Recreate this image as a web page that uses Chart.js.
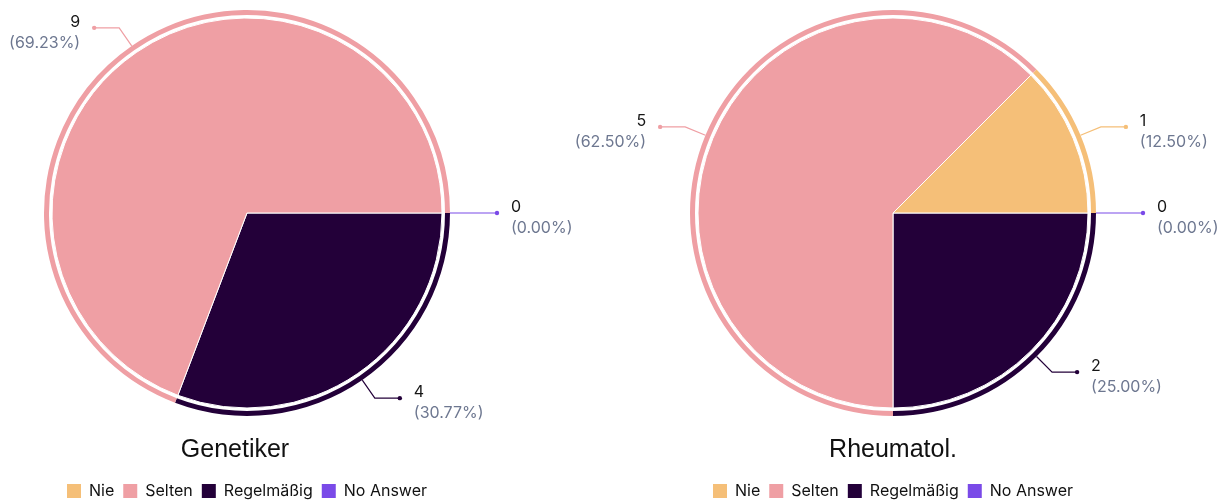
<!DOCTYPE html>
<html>
<head>
<meta charset="utf-8">
<script src="https://cdn.jsdelivr.net/npm/chart.js@4.4.1/dist/chart.umd.min.js"></script>
<style>
    html, body { margin: 0; padding: 0; background: #fff; overflow: hidden; }
    body { width: 1223px; height: 502px; position: relative; }
    .box { position: absolute; top: 0; height: 509px; }
    #boxLeft { left: 0; width: 600px; }
    #boxRight { left: 560px; width: 663px; }
</style>
</head>
<body>
<div class="box" id="boxLeft"><canvas id="chartLeft"></canvas></div>
<div class="box" id="boxRight"><canvas id="chartRight"></canvas></div>
<script>
const categories = ['Nie', 'Selten', 'Regelmäßig', 'No Answer'];
const colors = ['#f5bf78', '#ef9fa4', '#230039', '#7a4ae8'];
const genetikerValues = [0, 9, 4, 0];
const rheumaValues = [1, 5, 2, 0];
const titles = ['Genetiker', 'Rheumatol.'];

// slices run counter-clockwise in the reference, so the dataset is reversed
const rev = arr => arr.slice().reverse();

const leaderLabels = {
    id: 'leaderLabels',
    afterDatasetsDraw(chart) {
        const ctx = chart.ctx;
        const pieMeta = chart.getDatasetMeta(2);
        const ringMeta = chart.getDatasetMeta(0);
        const values = chart.data.datasets[2].data;
        const total = values.reduce((a, b) => a + b, 0);
        const placed = [];
        pieMeta.data.forEach((arc, i) => {
            const ring = ringMeta.data[i];
            const mid = (arc.startAngle + arc.endAngle) / 2;
            const r0 = ring.outerRadius;
            const cx = arc.x, cy = arc.y;
            const x0 = cx + Math.cos(mid) * r0, y0 = cy + Math.sin(mid) * r0;
            const x1 = cx + Math.cos(mid) * (r0 + 22), y1 = cy + Math.sin(mid) * (r0 + 22);
            const right = Math.cos(mid) >= -0.0001;
            const x2 = x1 + (right ? 25 : -25);
            // skip a label that would sit on top of one already drawn
            if (placed.some(p => Math.abs(p.x - x2) < 40 && Math.abs(p.y - y1) < 30)) return;
            placed.push({ x: x2, y: y1 });
            const col = chart.data.datasets[2].backgroundColor[i];
            ctx.save();
            ctx.strokeStyle = col;
            ctx.lineWidth = 1.2;
            ctx.beginPath();
            ctx.moveTo(x0, y0);
            ctx.lineTo(x1, y1);
            ctx.lineTo(x2, y1);
            ctx.stroke();
            ctx.fillStyle = col;
            ctx.beginPath();
            ctx.arc(x2, y1, 2.2, 0, Math.PI * 2);
            ctx.fill();
            const tx = x2 + (right ? 14 : -14);
            ctx.textAlign = right ? 'left' : 'right';
            ctx.textBaseline = 'middle';
            ctx.font = '16px Inter, "Noto Sans", sans-serif';
            ctx.fillStyle = '#161616';
            ctx.fillText(String(values[i]), tx, y1 - 6);
            ctx.fillStyle = '#6d7790';
            const pct = total ? values[i] / total * 100 : 0;
            ctx.fillText('(' + pct.toFixed(2) + '%)', tx, y1 + 15);
            ctx.restore();
        });
    }
};

const bottomTitle = {
    id: 'bottomTitle',
    afterDraw(chart, args, opts) {
        const ctx = chart.ctx;
        const area = chart.chartArea;
        ctx.save();
        ctx.font = '25px "Liberation Sans", Arial, sans-serif';
        ctx.fillStyle = '#111';
        ctx.textAlign = 'center';
        ctx.textBaseline = 'middle';
        ctx.fillText(opts.text, (area.left + area.right) / 2 + opts.dx, area.bottom + 24);
        ctx.restore();
    }
};

function buildPie(canvasId, values, title, pad, dx) {
    const bg = rev(colors);
    new Chart(document.getElementById(canvasId), {
        type: 'doughnut',
        data: {
            labels: rev(categories),
            datasets: [
                { data: rev(values), backgroundColor: bg, borderWidth: 0, weight: 5 },
                { data: rev(values), backgroundColor: 'rgba(0,0,0,0)', borderWidth: 0, weight: 3 },
                { data: rev(values), backgroundColor: bg, borderColor: '#ffffff', borderWidth: 1, weight: 195 }
            ]
        },
        options: {
            responsive: true,
            maintainAspectRatio: false,
            animation: false,
            rotation: 90,
            cutout: 0,
            radius: 203,
            layout: { padding: { left: pad.left, right: pad.right, top: 0, bottom: 0 } },
            plugins: {
                tooltip: { enabled: false },
                title: {
                    display: true,
                    text: '',
                    position: 'bottom',
                    weight: 500,
                    font: { size: 16, lineHeight: 1 },
                    padding: { top: 16, bottom: 16 }
                },
                bottomTitle: { text: title, dx: dx },
                legend: {
                    position: 'bottom',
                    reverse: true,
                    labels: {
                        boxWidth: 14,
                        boxHeight: 14,
                        padding: 9,
                        color: '#111111',
                        font: { size: 16, family: 'Inter, "Noto Sans", sans-serif' }
                    }
                }
            }
        },
        plugins: [leaderLabels, bottomTitle]
    });
}

buildPie('chartLeft', genetikerValues, titles[0], { left: 0, right: 106 }, -12);
buildPie('chartRight', rheumaValues, titles[1], { left: 80, right: 77 }, 0);
</script>
</body>
</html>
